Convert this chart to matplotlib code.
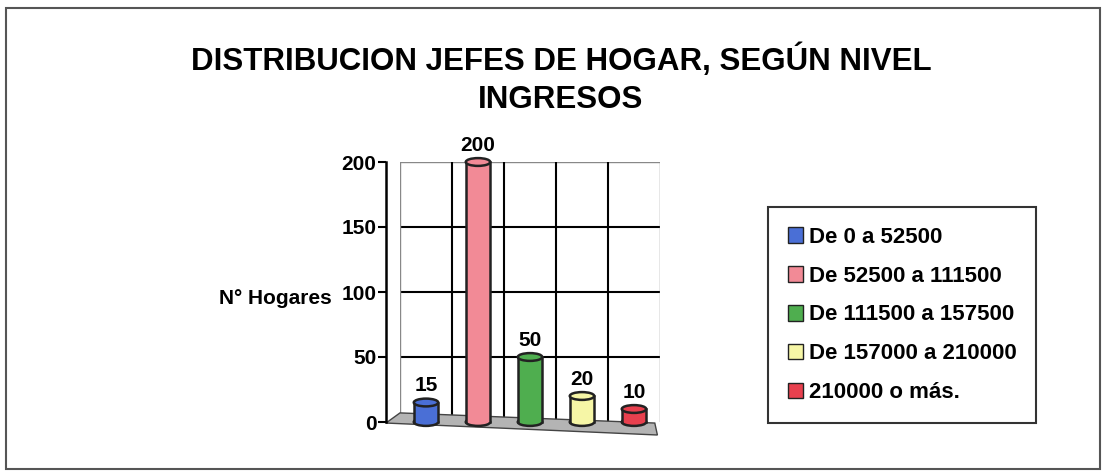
import matplotlib.pyplot as plt
from matplotlib.patches import Rectangle, Ellipse, Polygon

# data
categories = ['De 0 a 52500', 'De 52500 a 111500', 'De 111500 a 157500',
              'De 157000 a 210000', '210000 o más.']
hogares = [15, 200, 50, 20, 10]
colors = ['#4a6fd6', '#f28a96', '#4fae4f', '#f6f6a6', '#e8404e']
yticks = [0, 50, 100, 150, 200]

plt.rcParams['font.family'] = ['Liberation Sans', 'DejaVu Sans']
plt.rcParams['font.weight'] = 'bold'

fig = plt.figure(figsize=(11.08, 4.76), dpi=100)
W, H = 1108, 476

# outer frame of the chart
fig.patches.append(Rectangle((6 / W, 7 / H), 1094 / W, 461 / H, transform=fig.transFigure,
                             fill=False, edgecolor='#555555', linewidth=1.5))

fig.text(561 / W, 1 - 60 / H, 'DISTRIBUCION JEFES DE HOGAR, SEGÚN NIVEL',
         ha='center', va='center', fontsize=22.5, fontweight='bold')
fig.text(561 / W, 1 - 100 / H, 'INGRESOS', ha='center', va='center',
         fontsize=22.5, fontweight='bold')

ax = fig.add_axes([400 / W, 1 - 422 / H, 260 / W, 260 / H])
ax.set_xlim(-0.5, len(hogares) - 0.5)
ax.set_ylim(0, 200)

# floor of the 3d look
ax.add_patch(Polygon([(0, 0.035), (0.98, -0.004), (0.99, -0.05), (-0.054, -0.004)],
                     closed=True, transform=ax.transAxes, facecolor='#b4b4b4',
                     edgecolor='#444444', linewidth=1, clip_on=False, zorder=1))

for y in yticks:
    if y == 200:
        ax.axhline(y, color='#888888', linewidth=1.0, zorder=0)
    elif y > 0:
        ax.axhline(y, color='black', linewidth=1.5, zorder=0)
for i in range(len(hogares) + 1):
    if i in (0, len(hogares)):
        ax.axvline(i - 0.5, color='#888888', linewidth=1.0, zorder=0)
    else:
        ax.axvline(i - 0.5, color='black', linewidth=1.5, zorder=0)

bw = 0.47
eh = 6
for i, (v, c) in enumerate(zip(hogares, colors)):
    ax.add_patch(Rectangle((i - bw / 2, 0), bw, v, facecolor=c, edgecolor='none',
                           zorder=3, clip_on=False))
    ax.plot([i - bw / 2, i - bw / 2], [0, v], color='#222222', lw=1.8, zorder=4, clip_on=False)
    ax.plot([i + bw / 2, i + bw / 2], [0, v], color='#222222', lw=1.8, zorder=4, clip_on=False)
    ax.add_patch(Ellipse((i, 0), bw, eh, facecolor=c, edgecolor='#222222', lw=1.8,
                         zorder=2.9, clip_on=False))
    ax.add_patch(Ellipse((i, v), bw, eh, facecolor=c, edgecolor='#222222', lw=1.8,
                         zorder=5, clip_on=False))
    ax.annotate(str(v), (i, v), xytext=(0, 12), textcoords='offset points',
                ha='center', va='center', fontsize=15, fontweight='bold', zorder=6)

ax.set_xticks([])
ax.set_yticks(yticks)
ax.tick_params(axis='y', labelsize=15, length=6, width=1.5, pad=1)
for lbl in ax.get_yticklabels():
    lbl.set_fontweight('bold')
for s in ['top', 'right', 'bottom']:
    ax.spines[s].set_visible(False)
ax.spines['left'].set_position(('outward', 10))
ax.spines['left'].set_linewidth(1.8)

fig.text(275 / W, 1 - 298 / H, 'N° Hogares', ha='center', va='center',
         fontsize=15, fontweight='bold')

handles = [Rectangle((0, 0), 1, 1, facecolor=c, edgecolor='#222222') for c in colors]
leg = fig.legend(handles, categories, loc='center', bbox_to_anchor=(902 / W, 1 - 315 / H),
                 frameon=True, fancybox=False, edgecolor='black', fontsize=16,
                 handlelength=0.7, handleheight=0.7, handletextpad=0.25,
                 labelspacing=0.8, borderpad=0.9)
leg.get_frame().set_linewidth(1.5)
for t in leg.get_texts():
    t.set_fontweight('bold')

fig.savefig('out.png', dpi=100)
